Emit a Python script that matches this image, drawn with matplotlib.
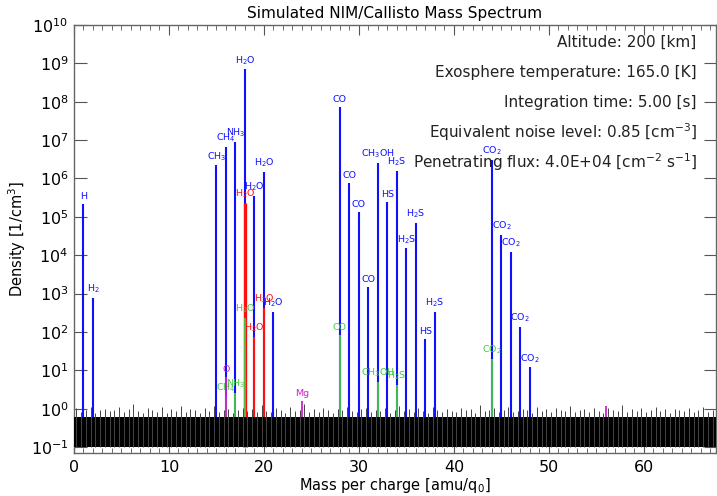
import numpy as np
import matplotlib
matplotlib.use("Agg")
import matplotlib.pyplot as plt
from matplotlib.ticker import LogLocator, MultipleLocator, NullLocator

# ---------------- data ----------------
blue_mass = [1, 2, 15, 16, 17, 18, 19, 20, 21,
             28, 29, 30, 31, 32, 33, 34, 35, 36, 37, 38,
             44, 45, 46, 47, 48]
blue_dens = [2.2e5, 7.8e2, 2.2e6, 6.6e6, 9.0e6, 7.0e8, 3.5e5, 1.5e6, 3.4e2,
             7.2e7, 7.8e5, 1.35e5, 1.5e3, 2.6e6, 2.5e5, 1.6e6, 1.5e4, 6.9e4, 66, 3.4e2,
             3.0e6, 3.4e4, 1.2e4, 1.38e2, 12]
blue_labels = ["H", "H$_2$", "CH$_3$", "CH$_4$", "NH$_3$", "H$_2$O", "H$_2$O", "H$_2$O", "H$_2$O",
               "CO", "CO", "CO", "CO", "CH$_3$OH", "HS", "H$_2$S", "H$_2$S", "H$_2$S", "HS", "H$_2$S",
               "CO$_2$", "CO$_2$", "CO$_2$", "CO$_2$", "CO$_2$"]

red_mass = [18, 19, 20]
red_dens = [2.3e5, 76, 4.3e2]
red_labels = ["H$_2$O", "H$_2$O", "H$_2$O"]

green_mass = [16, 17, 18, 28, 32, 34, 44]
green_dens = [2.0, 2.6, 2.3e2, 85, 5.0, 4.2, 20]
green_labels = ["CH$_4$", "NH$_3$", "H$_2$O", "CO", "CH$_3$OH", "H$_2$S", "CO$_2$"]

magenta_mass = [16, 24, 56]
magenta_dens = [6.7, 1.6, 1.2]
magenta_labels = ["O", "Mg", ""]

noise_level = 0.59
noise_spikes = [
    1.05, 0.82, 0.95, 1.10, 0.78, 0.90, 1.00, 0.85, 0.92, 1.12, 0.80, 0.97, 1.30, 0.88, 0.76, 1.02,
    0.93, 0.84, 1.08, 0.79, 0.96, 0.87, 1.15, 0.81, 0.99, 0.90, 0.77, 1.04, 0.86, 1.20, 0.83, 0.94,
    1.01, 0.78, 0.91, 1.06, 0.85, 0.98, 0.80, 1.25, 0.89, 0.82, 1.03, 0.95, 0.79, 1.09, 0.87, 0.92,
    1.35, 0.84, 0.97, 0.81, 1.05, 0.90, 0.78, 1.00, 0.93, 1.14, 0.86, 0.80, 0.99, 1.07, 0.83, 0.95,
    0.88, 1.02, 0.79, 0.91, 1.18, 0.85, 0.96, 0.82, 1.04, 0.89, 0.77, 1.10, 0.94, 0.84, 1.00, 0.87,
    0.81, 1.06, 0.92, 0.98, 0.79, 1.22, 0.86, 0.90, 1.03, 0.83, 0.95, 1.08, 0.80, 0.88, 1.01, 0.93,
    0.78, 1.12, 0.85, 0.97, 0.82, 1.04, 0.91, 0.87, 1.16, 0.80, 0.94, 0.99, 0.84, 1.06, 0.89, 0.79,
    1.02, 0.92, 0.86, 1.28, 0.81, 0.96, 0.88, 1.03, 0.83, 0.90, 1.09, 0.85, 0.97, 0.78, 1.00, 0.93,
    0.87, 1.05, 0.82, 0.95, 1.11, 0.80, 0.91, 0.98]

info_lines = ["Altitude: 200 [km]",
              "Exosphere temperature: 165.0 [K]",
              "Integration time: 5.00 [s]",
              "Equivalent noise level: 0.85 [cm$^{-3}$]",
              "Penetrating flux: 4.0E+04 [cm$^{-2}$ s$^{-1}$]"]

# ---------------- plot ----------------
fig = plt.figure(figsize=(7.17, 4.96), dpi=100)
ax_h = 428 / 496
ax = fig.add_axes([74/717, 43/496, 642/717, ax_h])
ax.set_xlim(0, 67.6)
ax.set_yscale("log")
ax.set_ylim(0.07, 1e10)

floor = 0.1
series = [(blue_mass, blue_dens, blue_labels, "#1010ff", 1.5, 2),
          (red_mass, red_dens, red_labels, "#ff1010", 1.5, 3),
          (green_mass, green_dens, green_labels, "#44cc44", 1.3, 4),
          (magenta_mass, magenta_dens, magenta_labels, "#cc22cc", 1.3, 5)]
for m, d, labs, col, lw, z in series:
    lws = [lw] * len(m)
    if col == "#ff1010":
        lws[0] = 2.4
    ax.vlines(m, floor, d, colors=col, linewidths=lws, zorder=z)
    for xi, yi, lab in zip(m, d, labs):
        if lab:
            ax.annotate(lab, (xi, yi), xytext=(0, 2), textcoords="offset points",
                        ha="center", va="bottom", fontsize=6.8, color=col, zorder=z)

# noise forest
spike_x = np.arange(len(noise_spikes)) * 0.5 + 0.25
ax.fill_between([0, 67.6], floor, noise_level, color="black", zorder=6, linewidth=0)
ax.vlines(spike_x, floor, noise_spikes, colors="#444444", linewidths=0.7, zorder=6)

# info text (line centres at 42, 72, 102, ... px from figure top; axes top at 25 px)
for i, line in enumerate(info_lines):
    ax.text(0.970, 1 - (17 + 30 * i) / 428, line,
            transform=ax.transAxes, ha="right", va="center", fontsize=11,
            color="#222222", zorder=7)

ax.set_title("Simulated NIM/Callisto Mass Spectrum", fontsize=11, pad=5)
ax.set_xlabel("Mass per charge [amu/q$_0$]", fontsize=10.5, labelpad=1)
ax.set_ylabel("Density [1/cm$^3$]", fontsize=10.5, labelpad=2)

ax.xaxis.set_major_locator(MultipleLocator(10))
ax.xaxis.set_minor_locator(MultipleLocator(1))
ax.yaxis.set_major_locator(LogLocator(base=10, numticks=20))
ax.yaxis.set_minor_locator(NullLocator())
ax.tick_params(axis="both", which="both", direction="in", top=True, right=True,
               colors="#555555", labelcolor="black", labelsize=11.5)
ax.tick_params(axis="y", which="major", length=9, pad=4)
ax.tick_params(axis="x", which="major", length=7, pad=5)
ax.tick_params(axis="x", which="minor", length=3.5)
for s in ax.spines.values():
    s.set_color("#666666")
    s.set_linewidth(1.0)

fig.savefig("out.png", dpi=100)
